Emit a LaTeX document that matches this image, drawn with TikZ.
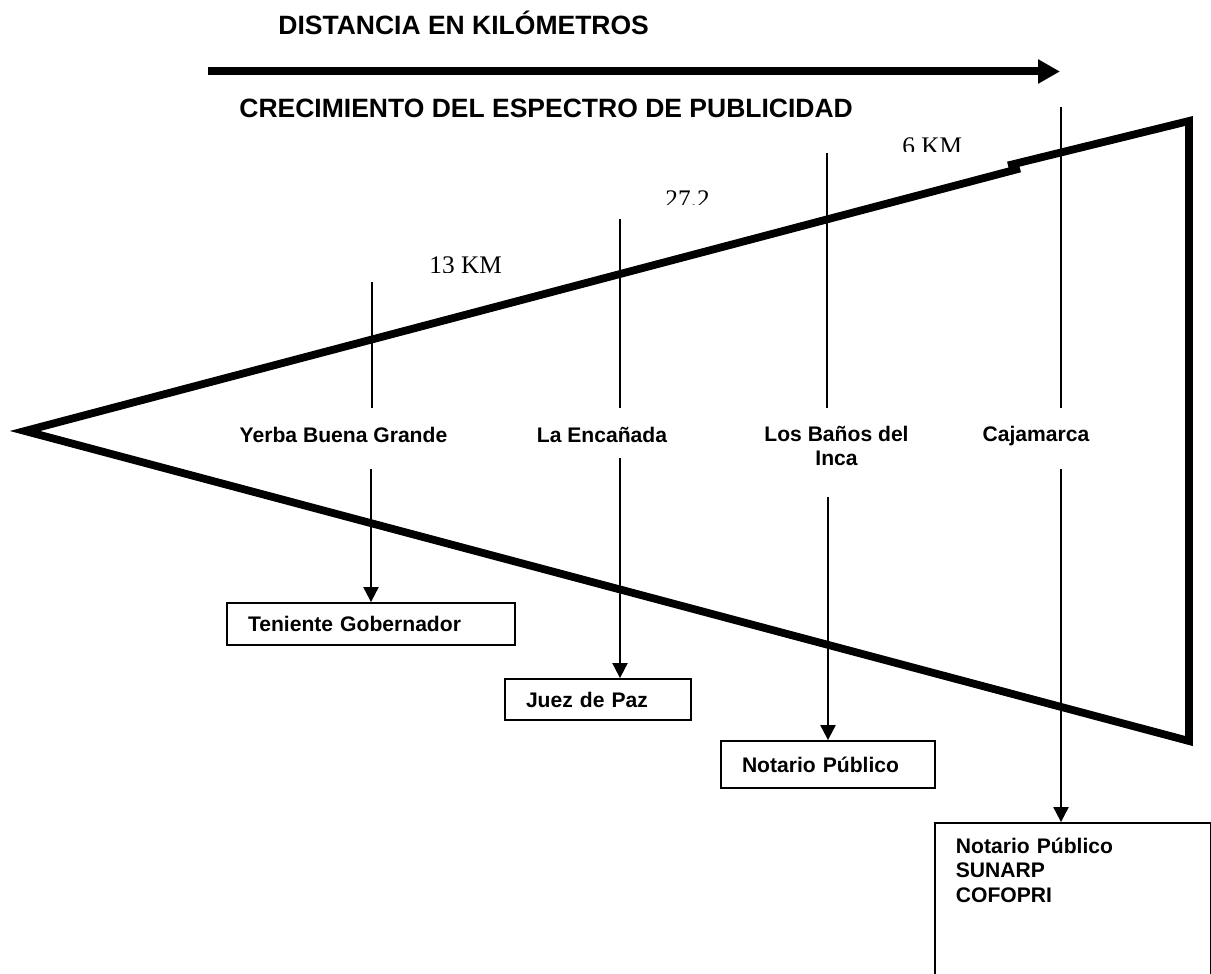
\documentclass[tikz,border=0pt]{standalone}
\usepackage{fontspec}
\setmainfont{Liberation Sans}
\newfontfamily\numfont{Liberation Serif}
\usetikzlibrary{arrows.meta,positioning}

\begin{document}
\begin{tikzpicture}[x=0.5pt, y=-0.5pt,
    lugar/.style={font=\fontsize{10.55}{12}\selectfont\bfseries, align=center, inner sep=0pt, anchor=base},
    caja/.style={draw, line width=0.9pt, font=\fontsize{10.55}{12.25}\selectfont\bfseries, align=left, inner xsep=10.5pt, inner ysep=0pt},
    titulo/.style={font=\fontsize{13.25}{15}\selectfont\bfseries, inner sep=0pt, anchor=base west},
    km/.style={font=\numfont\fontsize{12.65}{14}\selectfont, inner sep=0pt, anchor=base west},
    guia/.style={line width=1pt},
    flecha/.style={line width=1pt, -{Triangle[length=7.5pt, width=7.5pt]}}
]
    \useasboundingbox (0,0) rectangle (1211,974);

    % titulos y flecha superior
    \node[titulo] (distancia) at (278,35) {DISTANCIA EN KILÓMETROS};
    \node[titulo] (espectro) at (239,118) {CRECIMIENTO DEL ESPECTRO DE PUBLICIDAD};
    \coordinate (inicio) at (208,71.5);
    \coordinate (fin) at (1060,71.5);
    \draw[line width=4pt, -{Triangle[length=11pt, width=11.5pt]}] (inicio) -- (fin);

    % embudo
    \draw[line width=3.9pt, line join=miter] (1008,165.5) -- (1189,121) -- (1189,741) -- (25,431) -- (1020,168.5);

    % distancias (recortadas como en el original)
    \begin{scope}
        \clip (420,240) rectangle (520,272);
        \node[km] (km13) at (429,273.7) {13 KM};
    \end{scope}
    \begin{scope}
        \clip (650,170) rectangle (730,205);
        \node[km] (km27) at (665,207) {27.2};
    \end{scope}
    \begin{scope}
        \clip (890,120) rectangle (980,152);
        \node[km] (km6) at (902,155) {6 KM};
    \end{scope}

    % lugares
    \node[lugar] (yerba) at (343.5,442) {Yerba Buena Grande};
    \node[lugar] (encanada) at (602,442) {La Encañada};
    \node[lugar] (banos) at (836.5,465) {Los Baños del\\Inca};
    \node[lugar] (cajamarca) at (1036,441) {Cajamarca};

    % autoridades
    \node[caja, text width=123pt, minimum height=21pt] (teniente) at (371,624) {Teniente Gobernador};
    \node[caja, text width=72pt, minimum height=20.5pt] (juez) at (598,699.5) {Juez de Paz};
    \node[caja, text width=86pt, minimum height=23.5pt] (notario) at (828,764.5) {Notario Público};
    \node[caja, anchor=base west, text width=117pt, text height=15pt, text depth=70pt] (oficinas) at (934,853) {Notario Público\\SUNARP\\COFOPRI};

    % lineas verticales
    \coordinate (t1) at (372,282);  \coordinate (a1) at (372,408);  \coordinate (b1) at (371,469);
    \coordinate (t2) at (620,219);  \coordinate (a2) at (620,408);  \coordinate (b2) at (620,458);
    \coordinate (t3) at (827,153);  \coordinate (a3) at (827,408);  \coordinate (b3) at (828,497);
    \coordinate (t4) at (1061,107); \coordinate (a4) at (1061,408); \coordinate (b4) at (1061,469);

    \draw[guia] (t1) -- (a1);
    \draw[guia] (t2) -- (a2);
    \draw[guia] (t3) -- (a3);
    \draw[guia] (t4) -- (a4);

    \draw[flecha] (b1) -- (b1 |- teniente.north);
    \draw[flecha] (b2) -- (b2 |- juez.north);
    \draw[flecha] (b3) -- (b3 |- notario.north);
    \draw[flecha] (b4) -- (b4 |- oficinas.north);
\end{tikzpicture}
\end{document}
